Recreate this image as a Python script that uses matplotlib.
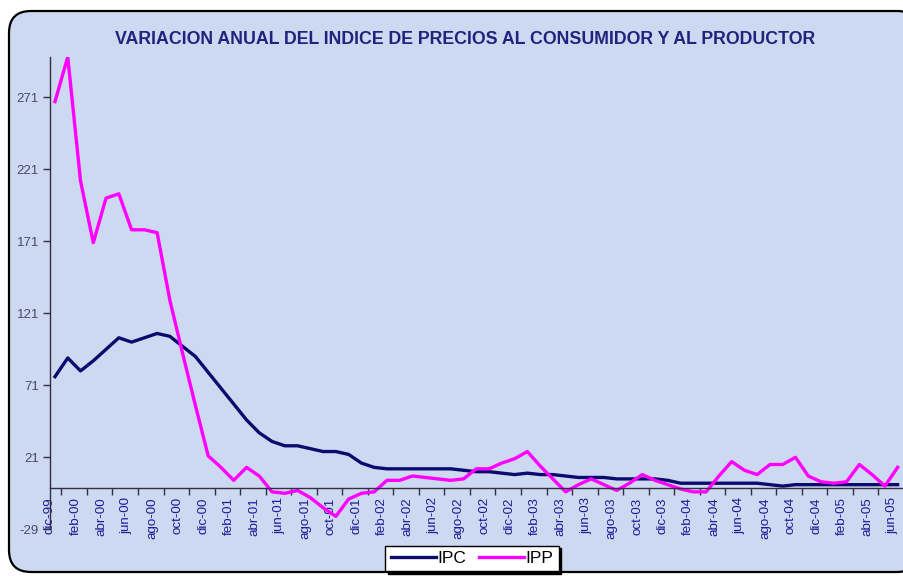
import numpy as np
import matplotlib
matplotlib.use("Agg")
import matplotlib.pyplot as plt
from matplotlib.patches import FancyBboxPatch
from matplotlib.transforms import IdentityTransform, ScaledTranslation

# Variación anual IPC / IPP, mensual dic-99 .. jun-05
ipc = [77, 90, 81, 88, 96, 104, 101, 104, 107, 105, 98, 91, 80, 69, 58, 47, 38,
       32, 29, 29, 27, 25, 25, 23, 17, 14, 13, 13, 13, 13, 13, 13, 12, 11, 11, 10,
       9, 10, 9, 9, 8, 7, 7, 7, 6, 6, 6, 6, 5, 3, 3, 3, 3, 3, 3, 3, 2, 1, 2, 2,
       2, 2, 2, 2, 2, 2, 2]
ipp = [268, 299, 213, 170, 201, 204, 179, 179, 177, 130, 93, 57, 22, 14, 5, 14, 8,
       -3, -4, -2, -7, -14, -20, -8, -4, -3, 5, 5, 8, 7, 6, 5, 6, 13, 13, 17,
       20, 25, 15, 6, -3, 2, 6, 2, -2, 3, 9, 5, 2, -1, -3, -3, 8, 18, 12, 9,
       16, 16, 21, 8, 4, 3, 4, 16, 9, 1, 14]
x_labels = ["dic-99", "feb-00", "abr-00", "jun-00", "ago-00", "oct-00", "dic-00",
            "feb-01", "abr-01", "jun-01", "ago-01", "oct-01", "dic-01",
            "feb-02", "abr-02", "jun-02", "ago-02", "oct-02", "dic-02",
            "feb-03", "abr-03", "jun-03", "ago-03", "oct-03", "dic-03",
            "feb-04", "abr-04", "jun-04", "ago-04", "oct-04", "dic-04",
            "feb-05", "abr-05", "jun-05"]
y_ticks = [-29, 21, 71, 121, 171, 221, 271]

W, H = 904, 576
fig = plt.figure(figsize=(W / 100, H / 100), dpi=100)
fig.patch.set_facecolor("white")

# fondo del area del grafico (borde redondeado)
box = FancyBboxPatch((9, 4), 910, 561, boxstyle="round,pad=0,rounding_size=22",
                     transform=IdentityTransform(), facecolor="#cdd8f1",
                     edgecolor="black", linewidth=1.6, zorder=-5)
fig.patches.append(box)

ax = fig.add_axes([50 / W, 46.7 / H, 854 / W, 472.3 / H])
ax.patch.set_alpha(0)
ax.set_zorder(1)

x = np.arange(len(ipc))
ax.plot(x, ipc, color="#0b0b6e", linewidth=2.4, label="IPC", solid_joinstyle="round")
ax.plot(x, ipp, color="#ff00ff", linewidth=2.4, label="IPP", solid_joinstyle="round")

ax.set_xlim(-0.39, 66.47)
ax.set_ylim(-29, 299)

for s in ["top", "right"]:
    ax.spines[s].set_visible(False)
ax.spines["bottom"].set_position(("data", 0))
ax.spines["bottom"].set_color("#303040")
ax.spines["left"].set_color("#303040")
ax.spines["bottom"].set_linewidth(1.0)
ax.spines["left"].set_linewidth(1.0)

ax.set_yticks(y_ticks)
ax.set_yticklabels([str(v) for v in y_ticks])
ax.tick_params(axis="y", colors="#303040", labelcolor="#4a4a66", labelsize=9.5,
               length=5, width=1, pad=3)
for lab in ax.get_yticklabels():
    lab.set_fontfamily("Liberation Sans")

ax.set_xticks(np.arange(0, len(ipc), 2))
ax.set_xticklabels(x_labels, rotation=90, fontsize=9.6, color="#1c1c96",
                   fontfamily="Liberation Sans", va="top")
ax.set_xticks(np.arange(0.5, len(ipc), 2), minor=True)
ax.tick_params(axis="x", which="major", length=0, pad=7)
ax.tick_params(axis="x", which="minor", length=5, width=1, color="#303040")
shift = ScaledTranslation(-5 / 100, 0, fig.dpi_scale_trans)
for lab in ax.get_xticklabels():
    lab.set_transform(lab.get_transform() + shift)

fig.text(465 / W, 1 - 40 / H,
         "VARIACION ANUAL DEL INDICE DE PRECIOS AL CONSUMIDOR Y AL PRODUCTOR",
         ha="center", va="center", fontsize=12.8, fontweight="bold",
         color="#23237e", fontfamily="Liberation Sans")

leg = fig.legend(loc="upper center", bbox_to_anchor=(472 / W, 1 - 537 / H),
                 ncol=2, frameon=True, fancybox=False,
                 handlelength=2.6, handletextpad=0.1, columnspacing=0.7,
                 borderpad=0.3, prop={"family": "Liberation Sans", "size": 12.5},
                 shadow={"color": "black", "alpha": 1})
leg.get_frame().set_edgecolor("black")
leg.get_frame().set_linewidth(1.0)
leg.get_frame().set_facecolor("white")
leg.set_zorder(5)

fig.savefig("out.png", dpi=100)
